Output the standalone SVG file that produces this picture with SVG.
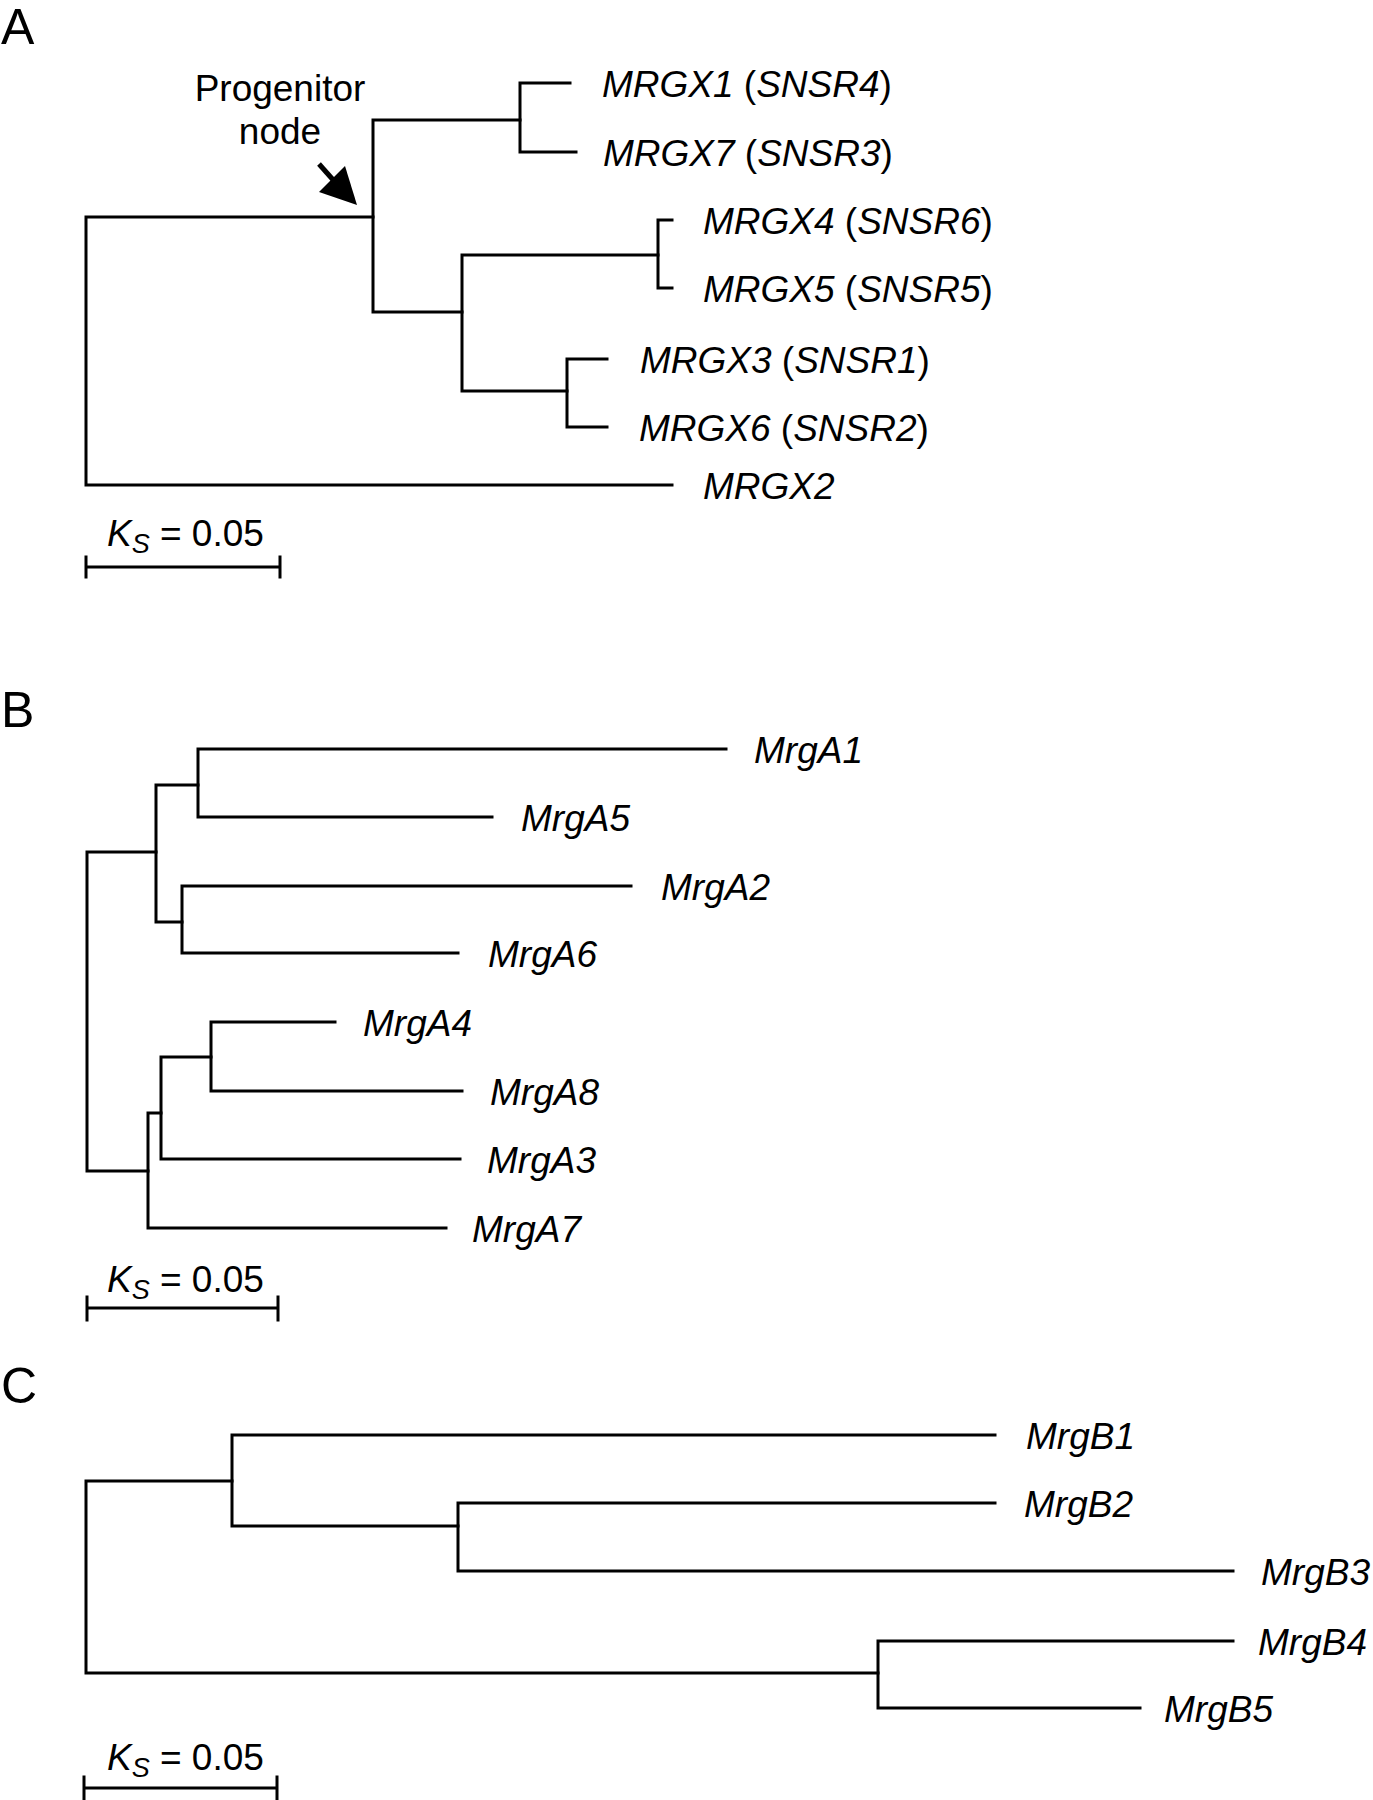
<svg xmlns="http://www.w3.org/2000/svg" width="1373" height="1800" viewBox="0 0 1373 1800">
<style>
  .br { fill: none; stroke: #000; stroke-width: 3; stroke-linecap: square; stroke-linejoin: miter; }
  .lbl { font-family: "Liberation Sans", Arial, sans-serif; font-size: 37px; fill: #000; }
  .it { font-style: italic; }
  .panel { font-family: "Liberation Sans", Arial, sans-serif; font-size: 50px; fill: #000; }
  .sub { font-size: 27px; font-style: italic; }
</style>
<rect width="1373" height="1800" fill="#fff"/>

<!-- panel letters -->
<text class="panel" x="1" y="44">A</text>
<text class="panel" x="1" y="727">B</text>
<text class="panel" x="1" y="1403">C</text>

<!-- connectors -->
<g id="connectors">
  <!-- Panel A -->
  <path class="br" d="M373,217 H86 V485 H672"/>
  <path class="br" d="M520,120 H373 V312 H462"/>
  <path class="br" d="M570,83 H520 V152 H576"/>
  <path class="br" d="M658,255 H462 V391 H567"/>
  <path class="br" d="M672,220 H658 V288 H672"/>
  <path class="br" d="M607,359 H567 V427 H607"/>
  <!-- progenitor arrow -->
  <line x1="319" y1="164" x2="335" y2="182" stroke="#000" stroke-width="5"/>
  <polygon points="357,205 319,192 345,166" fill="#000"/>
  <!-- Panel B -->
  <path class="br" d="M156,852 H87 V1171 H148"/>
  <path class="br" d="M198,785 H156 V922 H182"/>
  <path class="br" d="M726,749 H198 V817 H492"/>
  <path class="br" d="M631,886 H182 V953 H458"/>
  <path class="br" d="M161,1113 H148 V1228 H446"/>
  <path class="br" d="M211,1057 H161 V1159 H460"/>
  <path class="br" d="M335,1022 H211 V1091 H462"/>
  <!-- Panel C -->
  <path class="br" d="M232,1481 H86 V1673 H878"/>
  <path class="br" d="M995,1435 H232 V1526 H458"/>
  <path class="br" d="M995,1503 H458 V1571 H1233"/>
  <path class="br" d="M1233,1641 H878 V1708 H1140"/>
</g>

<!-- annotation -->
<g id="progenitor-label">
  <text class="lbl" x="280" y="101" text-anchor="middle">Progenitor</text>
  <text class="lbl" x="280" y="144" text-anchor="middle">node</text>
</g>

<!-- Panel A nodes -->
<g id="MRGX1"><text class="lbl" x="602" y="97"><tspan class="it">MRGX1</tspan> (<tspan class="it">SNSR4</tspan>)</text></g>
<g id="MRGX7"><text class="lbl" x="603" y="166"><tspan class="it">MRGX7</tspan> (<tspan class="it">SNSR3</tspan>)</text></g>
<g id="MRGX4"><text class="lbl" x="703" y="234"><tspan class="it">MRGX4</tspan> (<tspan class="it">SNSR6</tspan>)</text></g>
<g id="MRGX5"><text class="lbl" x="703" y="302"><tspan class="it">MRGX5</tspan> (<tspan class="it">SNSR5</tspan>)</text></g>
<g id="MRGX3"><text class="lbl" x="640" y="373"><tspan class="it">MRGX3</tspan> (<tspan class="it">SNSR1</tspan>)</text></g>
<g id="MRGX6"><text class="lbl" x="639" y="441"><tspan class="it">MRGX6</tspan> (<tspan class="it">SNSR2</tspan>)</text></g>
<g id="MRGX2"><text class="lbl it" x="703" y="499">MRGX2</text></g>

<!-- Panel B nodes -->
<g id="MrgA1"><text class="lbl it" x="754" y="763">MrgA1</text></g>
<g id="MrgA5"><text class="lbl it" x="521" y="831">MrgA5</text></g>
<g id="MrgA2"><text class="lbl it" x="661" y="900">MrgA2</text></g>
<g id="MrgA6"><text class="lbl it" x="488" y="967">MrgA6</text></g>
<g id="MrgA4"><text class="lbl it" x="363" y="1036">MrgA4</text></g>
<g id="MrgA8"><text class="lbl it" x="490" y="1105">MrgA8</text></g>
<g id="MrgA3"><text class="lbl it" x="487" y="1173">MrgA3</text></g>
<g id="MrgA7"><text class="lbl it" x="472" y="1242">MrgA7</text></g>

<!-- Panel C nodes -->
<g id="MrgB1"><text class="lbl it" x="1026" y="1449">MrgB1</text></g>
<g id="MrgB2"><text class="lbl it" x="1024" y="1517">MrgB2</text></g>
<g id="MrgB3"><text class="lbl it" x="1261" y="1585">MrgB3</text></g>
<g id="MrgB4"><text class="lbl it" x="1258" y="1655">MrgB4</text></g>
<g id="MrgB5"><text class="lbl it" x="1164" y="1722">MrgB5</text></g>

<!-- scale bars -->
<g id="scale-A">
  <text class="lbl" x="107" y="546"><tspan class="it">K</tspan><tspan class="sub" dy="7">S</tspan><tspan dy="-7"> = 0.05</tspan></text>
  <path class="br" d="M86,567 H280 M86,557 V577 M280,557 V577" stroke-linecap="butt"/>
</g>
<g id="scale-B">
  <text class="lbl" x="107" y="1292"><tspan class="it">K</tspan><tspan class="sub" dy="7">S</tspan><tspan dy="-7"> = 0.05</tspan></text>
  <path class="br" d="M87,1308 H278 M87,1297 V1320 M278,1297 V1320" stroke-linecap="butt"/>
</g>
<g id="scale-C">
  <text class="lbl" x="107" y="1770"><tspan class="it">K</tspan><tspan class="sub" dy="7">S</tspan><tspan dy="-7"> = 0.05</tspan></text>
  <path class="br" d="M84,1788 H277 M84,1777 V1800 M277,1777 V1800" stroke-linecap="butt"/>
</g>
</svg>
